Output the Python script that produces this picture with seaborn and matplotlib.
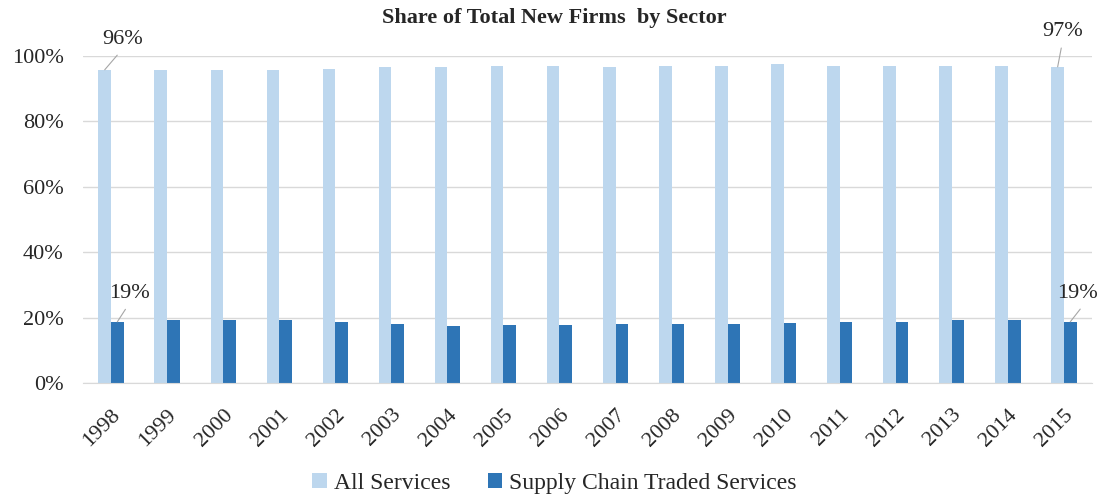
import seaborn as sns
import matplotlib.pyplot as plt
import pandas as pd
from matplotlib.ticker import PercentFormatter

# data (share of total new firms, %)
years = [str(y) for y in range(1998, 2016)]
all_services = [95.7, 95.7, 95.7, 95.7, 96.0, 96.6, 96.6, 97.0, 97.0,
                96.6, 97.0, 97.0, 97.4, 97.0, 97.0, 97.0, 97.0, 96.6]
supply_chain = [18.7, 19.1, 19.1, 19.4, 18.7, 18.0, 17.3, 17.6, 17.6,
                18.0, 18.0, 18.0, 18.3, 18.7, 18.7, 19.1, 19.1, 18.7]
series_names = ['All Services', 'Supply Chain Traded Services']
colors = ['#BDD7EE', '#2E75B6']

df = pd.DataFrame({
    'Year': years * 2,
    'Sector': [series_names[0]] * len(years) + [series_names[1]] * len(years),
    'Share': all_services + supply_chain,
})

sns.set_style('white')
plt.rcParams['font.family'] = ['Liberation Serif', 'DejaVu Serif']

fig = plt.figure(figsize=(11.09, 4.95), dpi=100)
ax = fig.add_axes([83 / 1109, 1 - 383 / 495, 1009 / 1109, (383 - 55.7) / 495])

sns.barplot(data=df, x='Year', y='Share', hue='Sector', palette=colors,
            width=0.45, saturation=1, linewidth=0, ax=ax, legend=True)

ax.set_ylim(0, 100)
ax.set_yticks(range(0, 101, 20))
ax.yaxis.set_major_formatter(PercentFormatter(decimals=0))
ax.grid(axis='y', color='#D9D9D9', linewidth=1)
ax.set_axisbelow(True)
for side in ['top', 'right', 'left']:
    ax.spines[side].set_visible(False)
ax.spines['bottom'].set_color('#D9D9D9')
ax.set_xlabel('')
ax.set_ylabel('')
ax.tick_params(axis='both', length=0, labelsize=16)
ax.tick_params(axis='y', pad=14)
ax.tick_params(axis='x', pad=16)
plt.setp(ax.get_xticklabels(), rotation=45, ha='right', rotation_mode='anchor')

# title centred on the figure rather than the axes
fig.text(0.5, 1 - 18 / 495, 'Share of Total New Firms  by Sector', ha='center', va='center',
         fontsize=16, fontweight='bold')

# data labels on first and last bar of each series
n = len(years)
bars_all = ax.patches[:n]
bars_sc = ax.patches[n:2 * n]
labels = [
    (bars_all[0], all_services[0], (13, 22), 0.5),
    (bars_all[-1], all_services[-1], (3.6, 25.7), 0.5),
    (bars_sc[0], supply_chain[0], (9, 20.7), 0.5),
    (bars_sc[-1], supply_chain[-1], (5, 20.7), 0.7),
]
for bar, val, off, rx in labels:
    x = bar.get_x() + bar.get_width() / 2
    ax.annotate(f'{val:.0f}%', xy=(x, bar.get_height()), xytext=off,
                textcoords='offset points', ha='center', va='center', fontsize=16,
                annotation_clip=False,
                arrowprops=dict(arrowstyle='-', color='#A6A6A6', lw=0.8,
                                shrinkA=3, shrinkB=0, relpos=(rx, 0)))

handles, lbls = ax.get_legend_handles_labels()
ax.get_legend().remove()
fig.legend(handles, lbls, loc='lower center', bbox_to_anchor=(0.5, -0.04), ncol=2,
           frameon=False, fontsize=17, handlelength=0.6, handleheight=0.6,
           handletextpad=0.3, columnspacing=1.6)

plt.savefig('out.png', dpi=100)
